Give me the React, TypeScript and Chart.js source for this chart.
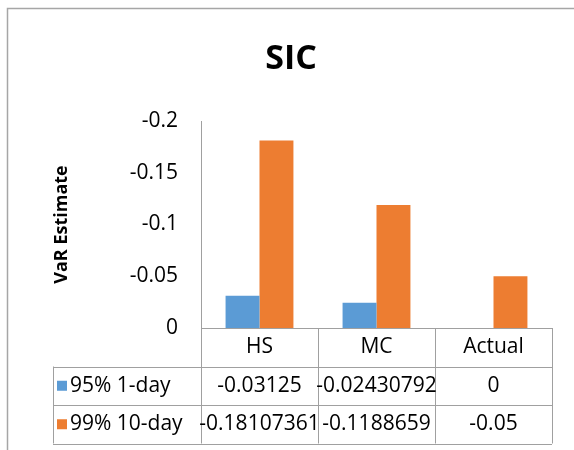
import React, { useEffect, useRef } from 'react';
import { Chart, registerables } from 'chart.js';

Chart.register(...registerables);

// ---- data ----
const chartTitle = 'SIC';
const yAxisTitle = 'VaR Estimate';
const categories = ['HS', 'MC', 'Actual'];
const seriesNames = ['95% 1-day', '99% 10-day'];
const series1 = [-0.03125, -0.02430792, 0];
const series2 = [-0.18107361, -0.1188659, -0.05];
const series1Text = ['-0.03125', '-0.02430792', '0'];
const series2Text = ['-0.18107361', '-0.1188659', '-0.05'];
const yTickValues = [-0.2, -0.15, -0.1, -0.05, 0];
const yTickLabels = ['-0.2', '-0.15', '-0.1', '-0.05', '0'];

// ---- styles ----
const FONT = '"Open Sans", Lato, sans-serif';
const COLORS = ['#5B9BD5', '#ED7D31'];
const LINE = '#a0a0a0';
const FRAME = '#a6a6a6';
const ROW_H = 38.5;
const TABLE_LEFT = 53;

const framePlugin = {
  id: 'frame',
  beforeDraw(chart: any) {
    const ctx = chart.ctx;
    ctx.save();
    ctx.fillStyle = '#ffffff';
    ctx.fillRect(0, 0, chart.width, chart.height);
    ctx.strokeStyle = FRAME;
    ctx.lineWidth = 1.5;
    ctx.beginPath();
    ctx.moveTo(7.5, chart.height);
    ctx.lineTo(7.5, 8.5);
    ctx.lineTo(chart.width, 8.5);
    ctx.stroke();
    // title
    ctx.fillStyle = '#000';
    ctx.font = `bold 34px ${FONT}`;
    ctx.textAlign = 'center';
    ctx.textBaseline = 'middle';
    ctx.fillText(chartTitle, chart.width / 2 + 4, 59);
    ctx.restore();
  },
};

const tablePlugin = {
  id: 'dataTable',
  afterDraw(chart: any) {
    const ctx = chart.ctx;
    const ca = chart.chartArea;
    const xs = chart.scales.x;
    const n = categories.length;
    const colW = (ca.right - ca.left) / n;
    const r0 = ca.bottom;
    const rows = [r0, r0 + ROW_H, r0 + 2 * ROW_H, r0 + 3 * ROW_H];
    const px = (v: number) => Math.round(v) + 0.5;
    ctx.save();
    ctx.strokeStyle = LINE;
    ctx.lineWidth = 1;
    ctx.beginPath();
    ctx.moveTo(ca.left, px(rows[0]));
    ctx.lineTo(ca.right, px(rows[0]));
    for (let r = 1; r < rows.length; r++) {
      ctx.moveTo(TABLE_LEFT, px(rows[r]));
      ctx.lineTo(ca.right, px(rows[r]));
    }
    for (let i = 0; i <= n; i++) {
      const x = px(ca.left + i * colW);
      ctx.moveTo(x, rows[0]);
      ctx.lineTo(x, rows[3]);
    }
    ctx.moveTo(px(TABLE_LEFT), rows[1]);
    ctx.lineTo(px(TABLE_LEFT), rows[3]);
    ctx.stroke();

    ctx.fillStyle = '#000';
    ctx.font = `21px ${FONT}`;
    ctx.textBaseline = 'middle';
    ctx.textAlign = 'center';
    const texts = [series1Text, series2Text];
    categories.forEach((c, i) => {
      const cx = xs.getPixelForValue(i);
      ctx.fillText(c, cx, (rows[0] + rows[1]) / 2);
      texts.forEach((t, s) => {
        ctx.fillText(t[i], cx, (rows[s + 1] + rows[s + 2]) / 2);
      });
    });
    ctx.textAlign = 'left';
    seriesNames.forEach((name, s) => {
      const cy = (rows[s + 1] + rows[s + 2]) / 2;
      ctx.fillStyle = COLORS[s];
      ctx.fillRect(TABLE_LEFT + 4, cy - 5, 10, 10);
      ctx.fillStyle = '#000';
      ctx.fillText(name, TABLE_LEFT + 17, cy);
    });
    ctx.restore();
  },
};

export default function App() {
  const ref = useRef<HTMLCanvasElement>(null);
  useEffect(() => {
    const chart = new Chart(ref.current as HTMLCanvasElement, {
      type: 'bar',
      data: {
        labels: categories,
        datasets: [
          { label: seriesNames[0], data: series1, backgroundColor: COLORS[0] },
          { label: seriesNames[1], data: series2, backgroundColor: COLORS[1] },
        ],
      },
      options: {
        animation: false,
        responsive: false,
        devicePixelRatio: 1,
        layout: { padding: { top: 121, right: 22, bottom: 122, left: 0 } },
        datasets: { bar: { categoryPercentage: 0.58, barPercentage: 1 } },
        plugins: {
          legend: { display: false },
          tooltip: { enabled: false },
          title: { display: false },
        },
        scales: {
          x: { display: false },
          y: {
            reverse: true,
            min: -0.2,
            max: 0,
            afterBuildTicks: (s: any) => {
              s.ticks = yTickValues.map((v) => ({ value: v }));
            },
            afterFit: (s: any) => {
              s.width = 201;
            },
            ticks: {
              callback: (_v: any, i: number) => yTickLabels[i],
              font: { family: FONT, size: 21 },
              color: '#000',
              padding: 23,
            },
            grid: { display: false, drawTicks: false },
            border: { display: true, color: LINE },
            title: {
              display: true,
              text: yAxisTitle,
              font: { family: FONT, size: 18, weight: 'bold' },
              color: '#000',
              padding: { top: 51, bottom: 0 },
            },
          },
        },
      } as any,
      plugins: [framePlugin, tablePlugin],
    });
    return () => chart.destroy();
  }, []);
  return (
    <div style={{ position: 'absolute', left: 0, top: 0, width: 574, height: 450 }}>
      <canvas ref={ref} width={574} height={450} style={{ display: 'block' }} />
    </div>
  );
}
